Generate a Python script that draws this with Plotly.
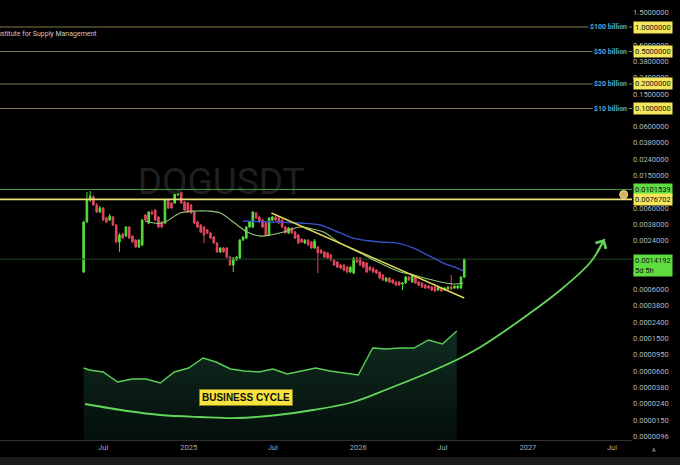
import math
import pandas as pd
import plotly.graph_objects as go

# ---------------- data ----------------
candle_start = "2024-05-20"
O = [0.000984, 0.00405, 0.00754, 0.00820, 0.00654, 0.00537, 0.00601, 0.00453, 0.00428, 0.00466,
     0.00372, 0.00230, 0.00288, 0.00272, 0.00351, 0.00272, 0.00243, 0.00200, 0.00211, 0.00493,
     0.00393, 0.00537, 0.00568, 0.00466, 0.00405, 0.00393, 0.00754, 0.00693, 0.00693, 0.00868,
     0.00945, 0.00713, 0.00693, 0.00654, 0.00537, 0.00405, 0.00372, 0.00351, 0.00323, 0.00297,
     0.00265, 0.00223, 0.00174, 0.00194, 0.00194, 0.00150, 0.00120, 0.00138, 0.00146, 0.00243,
     0.00257, 0.00351, 0.00351, 0.00522, 0.00466, 0.00428, 0.00393, 0.00280, 0.00428, 0.00466,
     0.00453, 0.00428, 0.00351, 0.00297, 0.00341, 0.00305, 0.00280, 0.00250, 0.00223, 0.00243,
     0.00230, 0.00194, 0.00200, 0.00184, 0.00174, 0.00169, 0.00159, 0.00138, 0.00131, 0.00120,
     0.00120, 0.00113, 0.000984, 0.000957, 0.00146, 0.00146, 0.00131, 0.00127, 0.00113, 0.00110,
     0.00104, 0.000984, 0.000905, 0.000764, 0.000831, 0.000786, 0.000743, 0.000743, 0.000702, 0.000722,
     0.000855, 0.000743, 0.000855, 0.000743, 0.000722, 0.000682, 0.000663, 0.000645, 0.000645, 0.000592,
     0.000627, 0.000592, 0.000609, 0.000645, 0.000627, 0.000627, 0.000627, 0.000855]
H = [0.00420, 0.00945, 0.00972, 0.00868, 0.00693, 0.00637, 0.00619, 0.00466, 0.00507, 0.00479,
     0.00383, 0.00297, 0.00297, 0.00361, 0.00361, 0.00280, 0.00250, 0.00250, 0.00441, 0.00507,
     0.00552, 0.00568, 0.00584, 0.00479, 0.00416, 0.00776, 0.00776, 0.00713, 0.00945, 0.01000,
     0.00972, 0.00734, 0.00713, 0.00673, 0.00552, 0.00416, 0.00383, 0.00361, 0.00332, 0.00305,
     0.00272, 0.00230, 0.00200, 0.00200, 0.00200, 0.00155, 0.00150, 0.00155, 0.00250, 0.00272,
     0.00361, 0.00416, 0.00552, 0.00537, 0.00479, 0.00441, 0.00405, 0.00466, 0.00479, 0.00479,
     0.00466, 0.00441, 0.00361, 0.00351, 0.00351, 0.00315, 0.00288, 0.00257, 0.00250, 0.00250,
     0.00236, 0.00250, 0.00205, 0.00189, 0.00179, 0.00174, 0.00164, 0.00142, 0.00134, 0.00124,
     0.00124, 0.00117, 0.00117, 0.00150, 0.00150, 0.00150, 0.00134, 0.00131, 0.00117, 0.00113,
     0.00107, 0.00101, 0.000930, 0.000855, 0.000855, 0.000808, 0.000764, 0.000764, 0.000743, 0.000880,
     0.000880, 0.000930, 0.000880, 0.000764, 0.000743, 0.000702, 0.000682, 0.000663, 0.000663, 0.000663,
     0.000645, 0.000645, 0.000663, 0.000905, 0.000682, 0.000682, 0.000880, 0.00146]
L = [0.000957, 0.00393, 0.00713, 0.00637, 0.00522, 0.00522, 0.00416, 0.00393, 0.00416, 0.00361,
     0.00223, 0.00174, 0.00250, 0.00265, 0.00250, 0.00223, 0.00194, 0.00194, 0.00205, 0.00416,
     0.00383, 0.00493, 0.00416, 0.00341, 0.00341, 0.00383, 0.00584, 0.00584, 0.00673, 0.00844,
     0.00673, 0.00552, 0.00522, 0.00507, 0.00383, 0.00341, 0.00297, 0.00223, 0.00288, 0.00250,
     0.00217, 0.00169, 0.00169, 0.00169, 0.00146, 0.00117, 0.000984, 0.00134, 0.00142, 0.00236,
     0.00250, 0.00341, 0.00341, 0.00441, 0.00393, 0.00341, 0.00272, 0.00272, 0.00416, 0.00416,
     0.00383, 0.00341, 0.00288, 0.00288, 0.00288, 0.00250, 0.00217, 0.00223, 0.00217, 0.00205,
     0.00189, 0.00189, 0.000957, 0.00164, 0.00146, 0.00142, 0.00134, 0.00117, 0.00110, 0.00107,
     0.00101, 0.000957, 0.000957, 0.000930, 0.00127, 0.00117, 0.00110, 0.000957, 0.00101, 0.000957,
     0.000930, 0.000808, 0.000764, 0.000743, 0.000722, 0.000702, 0.000663, 0.000663, 0.000592, 0.000702,
     0.000764, 0.000722, 0.000702, 0.000663, 0.000627, 0.000609, 0.000609, 0.000576, 0.000560, 0.000576,
     0.000560, 0.000576, 0.000592, 0.000592, 0.000609, 0.000609, 0.000609, 0.000831]
C = [0.00405, 0.00754, 0.00844, 0.00654, 0.00537, 0.00601, 0.00428, 0.00405, 0.00479, 0.00372,
     0.00230, 0.00280, 0.00257, 0.00351, 0.00257, 0.00230, 0.00200, 0.00243, 0.00428, 0.00428,
     0.00537, 0.00507, 0.00428, 0.00351, 0.00351, 0.00754, 0.00601, 0.00601, 0.00919, 0.00972,
     0.00693, 0.00568, 0.00537, 0.00522, 0.00393, 0.00351, 0.00305, 0.00280, 0.00297, 0.00257,
     0.00223, 0.00174, 0.00194, 0.00174, 0.00150, 0.00120, 0.00146, 0.00150, 0.00243, 0.00265,
     0.00351, 0.00405, 0.00537, 0.00453, 0.00405, 0.00351, 0.00280, 0.00453, 0.00466, 0.00428,
     0.00393, 0.00351, 0.00297, 0.00341, 0.00297, 0.00257, 0.00223, 0.00230, 0.00243, 0.00211,
     0.00194, 0.00236, 0.00169, 0.00169, 0.00150, 0.00146, 0.00138, 0.00120, 0.00113, 0.00110,
     0.00104, 0.000984, 0.00113, 0.00146, 0.00131, 0.00120, 0.00113, 0.000984, 0.00104, 0.000984,
     0.000957, 0.000831, 0.000786, 0.000831, 0.000743, 0.000722, 0.000682, 0.000682, 0.000722, 0.000855,
     0.000786, 0.000905, 0.000722, 0.000682, 0.000645, 0.000627, 0.000627, 0.000592, 0.000576, 0.000645,
     0.000576, 0.000627, 0.000645, 0.000609, 0.000663, 0.000663, 0.000855, 0.0014192]

ma_green_dates = ['2024-09-29', '2024-11-05', '2024-12-14', '2025-01-19', '2025-02-10', '2025-03-10',
                  '2025-04-07', '2025-05-07', '2025-06-04', '2025-06-26', '2025-07-24', '2025-08-29',
                  '2025-09-24', '2025-10-18', '2025-11-23', '2026-01-05', '2026-02-17', '2026-04-02',
                  '2026-04-23', '2026-05-15', '2026-06-27', '2026-07-25', '2026-08-15']
ma_green_vals = [0.00416, 0.00393, 0.00522, 0.00552, 0.00552, 0.00522, 0.00405, 0.00305, 0.00272, 0.00280,
                 0.00305, 0.00351, 0.00332, 0.00305, 0.00223, 0.00169, 0.00127, 0.000984, 0.000930,
                 0.000855, 0.000743, 0.000702, 0.000722]

ma_blue_dates = ['2025-04-28', '2025-07-02', '2025-08-29', '2025-10-11', '2025-11-23', '2025-12-21',
                 '2026-02-17', '2026-03-26', '2026-04-30', '2026-05-30', '2026-07-03', '2026-08-02', '2026-08-15']
ma_blue_vals = [0.00416, 0.00405, 0.00393, 0.00372, 0.00297, 0.00257, 0.00230, 0.00223, 0.00194,
                0.00159, 0.00127, 0.00110, 0.00101]

trend_dates = ['2025-06-28', '2026-08-17']
trend_vals = [0.00522, 0.000473]

ism_dates = ['2024-05-20', '2024-06-01', '2024-07-01', '2024-08-01', '2024-09-01', '2024-10-01',
             '2024-11-01', '2024-12-01', '2025-01-01', '2025-02-01', '2025-03-01', '2025-04-01',
             '2025-05-01', '2025-06-01', '2025-07-01', '2025-08-01', '2025-09-01', '2025-10-01',
             '2025-11-01', '2025-12-01', '2026-01-01', '2026-02-01', '2026-03-01', '2026-04-01',
             '2026-05-01', '2026-06-01', '2026-07-01', '2026-08-01']
ism_vals = [47.8, 47.4, 47.0, 45.0, 45.6, 45.6, 44.8, 47.0, 47.8, 49.8, 49.0, 47.6, 47.2, 47.0,
            47.6, 46.6, 47.2, 47.8, 47.2, 46.8, 46.4, 51.8, 51.6, 51.8, 51.8, 53.4, 52.6, 55.2]

cycle_dates = ['2024-05-23', '2024-08-22', '2024-11-01', '2025-01-26', '2025-04-16', '2025-07-11',
               '2025-09-26', '2025-12-21', '2026-03-11', '2026-05-30', '2026-08-09', '2026-09-21',
               '2026-12-16', '2027-03-12', '2027-05-16', '2027-06-15']
cycle_vals = [40.6, 39.2, 38.4, 38.0, 37.8, 38.4, 39.4, 41.0, 43.8, 46.8, 49.8, 52.0, 57.4, 63.4, 69.0, 73.6]

level_vals = [1.0, 0.5, 0.2, 0.1]
level_labels = ['$100 billion', '$50 billion', '$20 billion', '$10 billion']
green_level = 0.0101539
yellow_level = 0.0076702
last_price = 0.0014192
last_label2 = '5d 5h'

tick_vals = [1.5, 0.6, 0.38, 0.24, 0.15, 0.06, 0.038, 0.024, 0.015, 0.006, 0.0038, 0.0024,
             0.00095, 0.0006, 0.00038, 0.00024, 0.00015, 0.000095, 0.00006, 0.000038,
             0.000024, 0.000015, 0.0000096]
x_tick_vals = ['2024-07-01', '2025-01-01', '2025-07-01', '2026-01-01', '2026-07-01', '2027-01-01', '2027-07-01']
x_tick_text = ['Jul', '2025', 'Jul', '2026', 'Jul', '2027', 'Jul']

dot_date = ['2027-07-26']
dot_val = [0.0088]

x_range = ['2023-11-22', '2027-08-13']

# ---------------- figure ----------------
FONT = 'Roboto'
dates = pd.date_range(candle_start, periods=len(C), freq='7D')

fig = go.Figure()

# watermark
fig.add_trace(go.Scatter(x=['2025-03-12'], y=[0.0115], mode='text', text=['DOGUSDT'],
                         textfont=dict(size=37, color='#1f1f1f', family=FONT), hoverinfo='skip',
                         showlegend=False))

# horizontal levels
for v in level_vals:
    fig.add_trace(go.Scatter(x=x_range, y=[v, v], mode='lines', line=dict(color='#857a47', width=1),
                             showlegend=False, hoverinfo='skip'))
fig.add_trace(go.Scatter(x=x_range, y=[green_level] * 2, mode='lines',
                         line=dict(color='#4f9a45', width=1), showlegend=False, hoverinfo='skip'))
fig.add_trace(go.Scatter(x=x_range, y=[yellow_level] * 2, mode='lines',
                         line=dict(color='#ece27a', width=1.8), showlegend=False, hoverinfo='skip'))
fig.add_trace(go.Scatter(x=x_range, y=[last_price] * 2, mode='lines',
                         line=dict(color='#244a24', width=1), showlegend=False, hoverinfo='skip'))

# moving averages and trendline
fig.add_trace(go.Scatter(x=ma_green_dates, y=ma_green_vals, mode='lines', line_shape='spline',
                         line=dict(color='#93c777', width=1.1), showlegend=False))
fig.add_trace(go.Scatter(x=ma_blue_dates, y=ma_blue_vals, mode='lines', line_shape='spline',
                         line=dict(color='#3552cc', width=1.4), showlegend=False))
fig.add_trace(go.Scatter(x=trend_dates, y=trend_vals, mode='lines',
                         line=dict(color='#e3dc55', width=1.4), showlegend=False))

# candles
fig.add_trace(go.Candlestick(x=dates, open=O, high=H, low=L, close=C,
                             increasing=dict(line=dict(color='#55dd3a', width=1), fillcolor='#55dd3a'),
                             decreasing=dict(line=dict(color='#e0485f', width=1), fillcolor='#e0485f'),
                             whiskerwidth=0, showlegend=False))

# gold dot
fig.add_trace(go.Scatter(x=dot_date, y=dot_val, mode='markers',
                         marker=dict(size=8, color='#d7b25e', line=dict(color='#f3dc96', width=1)),
                         showlegend=False))

# business cycle area + arc (secondary axis)
fig.add_trace(go.Scatter(x=ism_dates, y=ism_vals, yaxis='y2', mode='lines', fill='tozeroy',
                         line=dict(color='#5ccf55', width=1.4),
                         fillgradient=dict(type='vertical', start=33.4, stop=55,
                                           colorscale=[[0, 'rgb(4,14,10)'], [1, 'rgb(16,44,32)']]),
                         showlegend=False))
fig.add_trace(go.Scatter(x=cycle_dates, y=cycle_vals, yaxis='y2', mode='lines', line_shape='spline',
                         line=dict(color='#62d65a', width=1.8), showlegend=False))

annotations = []
annotations.append(dict(x=cycle_dates[-1], y=cycle_vals[-1], xref='x', yref='y2',
                        ax='2027-05-28', ay=70.6, axref='x', ayref='y2', text='', showarrow=True,
                        arrowhead=4, arrowsize=1.3, arrowwidth=1.8, arrowcolor='#62d65a', standoff=0))
annotations.append(dict(x='2025-05-05', y=42.0, xref='x', yref='y2', text='<b>BUSINESS CYCLE</b>',
                        showarrow=False, bgcolor='#f5e43c', bordercolor='#8d7d22', borderwidth=1,
                        borderpad=2, font=dict(size=10, color='#111111', family='Liberation Sans')))


def box(v, text, bg, yanchor='middle', yshift=0):
    return dict(x=1, xref='paper', xanchor='left', xshift=1, y=math.log10(v), yref='y',
                yanchor=yanchor, yshift=yshift, text=text, showarrow=False, bgcolor=bg,
                borderpad=1, align='left', font=dict(size=7.5, color='#111111', family=FONT))


for v, lab in zip(level_vals, level_labels):
    annotations.append(box(v, f'{v:.7f}', '#f6e65b'))
    annotations.append(dict(x=1, xref='paper', xanchor='right', xshift=-3, y=math.log10(v), yref='y',
                            text=f'<b>{lab}</b>', showarrow=False, bgcolor='#000000', borderpad=1,
                            font=dict(size=7, color='#4fa9d6', family=FONT)))
annotations.append(box(green_level, f'{green_level:.7f}', '#5fdd3f'))
annotations.append(box(yellow_level, f'{yellow_level:.7f}', '#f6e65b'))
annotations.append(box(last_price, f'{last_price:.7f}<br>{last_label2}', '#5fdd3f', yanchor='top', yshift=5))

annotations.append(dict(x=0, xref='paper', xanchor='left', xshift=-7, y=(440 - 34.5) / 440, yref='paper',
                        yanchor='middle', text='Institute for Supply Management', showarrow=False,
                        font=dict(size=7, color='#c9c9c9', family=FONT)))
annotations.append(dict(x=658 / 632, xref='paper', y=(440 - 450) / 440, yref='paper', yanchor='middle',
                        text='A', showarrow=False, font=dict(size=5.5, color='#c0c0c0', family=FONT)))

shapes = [
    dict(type='rect', xref='paper', yref='paper', x0=0, x1=680 / 632, y0=(440 - 457) / 440,
         y1=(440 - 466) / 440, fillcolor='#1a1a1a', line=dict(width=0), layer='above'),
]

fig.update_layout(
    width=680, height=465, margin=dict(l=0, r=48, t=0, b=25),
    paper_bgcolor='#000000', plot_bgcolor='#000000', showlegend=False,
    font=dict(family=FONT, color='#b2b5be'),
    annotations=annotations, shapes=shapes,
    xaxis=dict(type='date', range=x_range, rangeslider=dict(visible=False), showgrid=False,
               zeroline=False, tickvals=x_tick_vals, ticktext=x_tick_text, ticks='',
               tickfont=dict(size=7.5, color='#a6a9b1'), showline=True, linecolor='#303030',
               linewidth=1),
    yaxis=dict(type='log', side='right', range=[-5.0675, 0.3313], showgrid=False, zeroline=False,
               tickvals=tick_vals, ticktext=[f'{v:.7f}' for v in tick_vals], ticks='',
               tickfont=dict(size=7.5, color='#b2b5be'), showline=False),
    yaxis2=dict(overlaying='y', range=[33.4, 121.4], visible=False),
)

fig.write_html('out.html')
